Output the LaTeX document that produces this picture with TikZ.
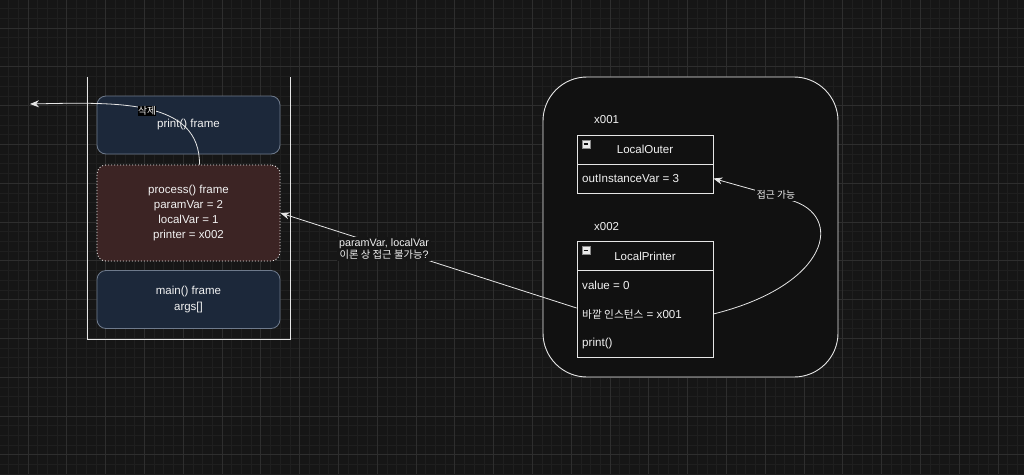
\documentclass[tikz,border=0pt]{standalone}
\usepackage{fontspec}
\setmainfont{Liberation Sans}
\newfontfamily\kr[Scale=0.85]{Noto Sans CJK KR}
\newfontfamily\krrow[Scale=0.92]{Noto Sans CJK KR}
\newfontfamily\krbig[Scale=0.96]{Noto Sans CJK KR}
\usetikzlibrary{arrows.meta,calc}
\definecolor{bg}{HTML}{161616}
\definecolor{minorgrid}{HTML}{1F1F1F}
\definecolor{majorgrid}{HTML}{2E2E2E}
\definecolor{heapfill}{HTML}{111111}
\definecolor{navy}{HTML}{1C283A}
\definecolor{navyline}{HTML}{6E7A8C}
\definecolor{brown}{HTML}{3C2424}
\definecolor{txt}{HTML}{F2F2F2}
\definecolor{wline}{HTML}{E6E6E6}
\tikzset{
  minorline/.style={draw=minorgrid, line width=0.7pt},
  majorline/.style={draw=majorgrid, line width=1pt},
  lbl/.style={text=txt, font=\fontsize{11.5}{15.3}\selectfont, inner sep=1pt},
  navyframe/.style={draw=navyline, fill=navy, rounded corners=9pt, line width=0.8pt,
    minimum width=183pt, text=txt, align=center, font=\fontsize{11.5}{15.3}\selectfont},
  brownframe/.style={draw=wline!75, fill=brown, rounded corners=9pt, line width=0.8pt,
    dash pattern=on 1pt off 2pt, minimum width=183pt, text=txt, align=center,
    font=\fontsize{11.5}{15.3}\selectfont},
  clsbox/.style={draw=wline, fill=heapfill, line width=0.8pt, minimum width=136pt,
    text=txt, font=\fontsize{11.5}{14}\selectfont, inner sep=0pt},
  rowtext/.style={text=txt, font=\fontsize{11.6}{14}\selectfont, anchor=west, inner sep=0pt},
  conn/.style={draw=wline, line width=0.8pt, -{Stealth[length=9pt,width=7pt]}},
  icon/.style={fill=wline!85, draw=wline!60!black, minimum width=8pt, minimum height=8pt, inner sep=0pt},
}
\begin{document}
\begin{tikzpicture}[x=1pt,y=-1pt]
\useasboundingbox (0,0) rectangle (1024,474);
\fill[bg] (0,0) rectangle (1024,474);
% grid
\foreach \j in {-3,...,103} {\draw[minorline] ({28+9.7*\j},0) -- ({28+9.7*\j},474);}
\foreach \j in {-3,...,46} {\draw[minorline] (0,{28+9.7*\j}) -- (1024,{28+9.7*\j});}
\foreach \j in {-1,...,26} {\draw[majorline] ({28+38.8*\j},0) -- ({28+38.8*\j},474);}
\foreach \j in {-1,...,12} {\draw[majorline] (0,{28+38.8*\j}) -- (1024,{28+38.8*\j});}

% stack
\draw[draw=wline, line width=0.9pt] (87,77) -- (87,339) -- (290,339) -- (290,77);
\node[navyframe, minimum height=58pt] (printf) at (188.5,125) {print() frame};
\node[brownframe, minimum height=96pt] (processf) at (188.5,213)
  {process() frame\\ paramVar = 2\\ localVar = 1\\ printer = x002};
\node[navyframe, minimum height=58pt] (mainf) at (188.5,299.5) {main() frame\\ args[]};

% heap
\node[draw=wline, fill=heapfill, rounded corners=44pt, line width=0.9pt,
  minimum width=295pt, minimum height=300pt] (heap) at (690.5,227) {};
\node[lbl, anchor=west] (x001) at (593,120) {x001};
\node[lbl, anchor=west] (x002) at (593,227) {x002};

\node[clsbox, minimum height=29pt] (outerh) at (645,149.5) {LocalOuter};
\node[clsbox, minimum height=29pt] (outerb) at (645,178.5) {};
\node[rowtext] (orow) at (582,178.5) {outInstanceVar = 3};
\node[icon] (oicon) at (586,144) {};
\draw[draw=heapfill, line width=1.5pt] ($(oicon.west)+(1.8,0)$) -- ($(oicon.east)+(-1.8,0)$);

\node[clsbox, minimum height=29pt] (printh) at (645,256) {LocalPrinter};
\node[clsbox, minimum height=87pt] (printb) at (645,314) {};
\node[rowtext] (prow1) at (582,285) {value = 0};
\node[rowtext] (prow2) at (582,314) {{\krrow 바깥 인스턴스} = x001};
\node[rowtext] (prow3) at (582,343) {print()};
\node[icon] (picon) at (586,250.5) {};
\draw[draw=heapfill, line width=1.5pt] ($(picon.west)+(1.8,0)$) -- ($(picon.east)+(-1.8,0)$);

% connectors
\coordinate (del) at (30,104);
\draw[conn] ($(processf.north)+(11,0)$) .. controls (200,100) and (120,102) .. (del);
\node[lbl, fill=black, inner sep=0.5pt] (dellbl) at (147,111) {\kr 삭제};

\draw[conn] ($(printb.west)+(0,-6)$) -- node[pos=0.65, yshift=-3pt, lbl, fill=bg, align=center, inner sep=2pt,
  font=\fontsize{10.75}{11.6}\selectfont] (nolbl)
  {paramVar, localVar\\ {\krbig 이론 상 접근 불가능}?} (processf.east);

\draw[conn] (printb.east |- prow2) .. controls (830,285) and (845,215) .. (790,200) -- (outerb.east);
\node[lbl, fill=heapfill, inner sep=2pt] (oklbl) at (776,195) {\kr 접근 가능};
\end{tikzpicture}
\end{document}
